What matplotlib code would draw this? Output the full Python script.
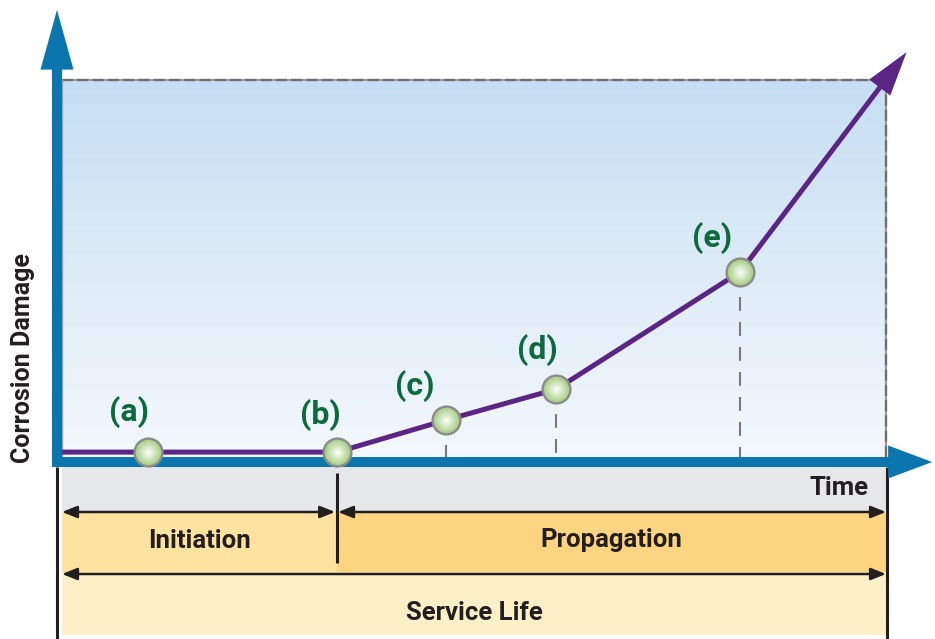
import numpy as np
import matplotlib
matplotlib.use("Agg")
import matplotlib.pyplot as plt
from matplotlib.patches import FancyArrowPatch, Rectangle, ArrowStyle
from matplotlib.colors import to_rgb

plt.rcParams['font.family'] = ['Roboto', 'DejaVu Sans']
plt.rcParams['lines.scale_dashes'] = False

# ---------------- data ----------------
curve_time = [0, 10.4, 33.4, 46.6, 60.0, 82.3, 102.5]
curve_damage = [1.3, 1.3, 1.3, 9.8, 18.0, 49.1, 107.4]
point_labels = ['(a)', '(b)', '(c)', '(d)', '(e)']
point_index = [1, 2, 3, 4, 5]
drop_index = [3, 4, 5]
initiation_end = curve_time[2]
service_end = 100
phase_labels = ['Initiation', 'Propagation', 'Service Life']
x_title = 'Time'
y_title = 'Corrosion Damage'

# ---------------- styles ----------------
BLUE = '#0b76ae'
PURPLE = '#5b2586'
GREEN = '#0d6a3d'
BLACK = '#231f20'
GRAY_BAND = '#e6e7e9'
INIT_C = '#fee3a0'
PROP_C = '#fdd580'
LIFE_C = '#fdefc8'
label_offsets = [(-13.7, 28.8), (-12.2, 26.6), (-22.3, 24.5), (-13.7, 28.1), (-20.2, 24.5)]
TW = 'bold'
TS = 18.5

W, H = 935, 639
fig = plt.figure(figsize=(W / 100, H / 100), dpi=100)
ax2 = fig.add_axes([62 / W, 0, 824 / W, 172 / H])
ax = fig.add_axes([62 / W, (H - 457) / H, 824 / W, 377 / H])
ax.set_zorder(2)
ax2.set_zorder(1)
for a in (ax, ax2):
    a.set_axis_off()
    a.patch.set_visible(False)

ax.set_xlim(0, 100)
ax.set_ylim(0, 100)

# background gradient
top = np.array(to_rgb('#c6def3'))
bot = np.array(to_rgb('#f4f8fc'))
tt = np.linspace(0, 1, 256)[:, None]
grad = (top[None, :] * (1 - tt) + bot[None, :] * tt)[:, None, :]
ax.imshow(grad, extent=[0, 100, 0, 100], aspect='auto', zorder=0, origin='upper')

# dashed border
for xs, ys in (([0, 100], [100, 100]), ([100, 100], [0, 100])):
    ax.plot(xs, ys, color='#9b9b9b', lw=1.6, zorder=1, clip_on=False, solid_capstyle='butt')
    ax.plot(xs, ys, color='#6e6e6e', lw=1.6, zorder=1, clip_on=False,
            dashes=(8, 3))
ax.plot([0, 0], [0, 100], color='#9aa4ab', lw=1.0, zorder=1, clip_on=False)

# blue axes arrows
vert = FancyArrowPatch((-0.607, -2.65), (-0.607, 118.6),
                       arrowstyle=ArrowStyle.Simple(head_length=43, head_width=23.8, tail_width=7.2),
                       color=BLUE, lw=0, shrinkA=0, shrinkB=0, mutation_scale=1,
                       transform=ax.transData, clip_on=False, zorder=3)
horz = FancyArrowPatch((-1.21, -1.33), (105.6, -1.33),
                       arrowstyle=ArrowStyle.Simple(head_length=31.7, head_width=23.8, tail_width=7.2),
                       color=BLUE, lw=0, shrinkA=0, shrinkB=0, mutation_scale=1,
                       transform=ax.transData, clip_on=False, zorder=3)
ax.add_patch(vert)
ax.add_patch(horz)

# drop lines
for i in drop_index:
    ax.plot([curve_time[i], curve_time[i]], [curve_damage[i], 0], color='#7a7a7a',
            lw=1.5, dashes=(10, 8), zorder=2, solid_capstyle='butt', dash_capstyle='butt')

# purple curve
ax.plot(curve_time[:-1], curve_damage[:-1], color=PURPLE, lw=3.6, zorder=4,
        solid_joinstyle='miter', solid_capstyle='butt', clip_on=False)
tip = FancyArrowPatch((curve_time[-2], curve_damage[-2]), (curve_time[-1], curve_damage[-1]),
                      arrowstyle=ArrowStyle.Simple(head_length=32, head_width=19, tail_width=3.6),
                      color=PURPLE, lw=0, shrinkA=0, shrinkB=0, mutation_scale=1,
                      transform=ax.transData, clip_on=False, zorder=4)
ax.add_patch(tip)

# markers with radial gradient
pt = [curve_time[i] for i in point_index]
pd_ = [curve_damage[i] for i in point_index]
ax.plot(pt, pd_, 'o', ms=20, mfc='#a9cf8a', mec='#8b8b8b', mew=1.7, zorder=5, clip_on=False)
c_out = np.array(to_rgb('#a9cf8a'))
c_in = np.array(to_rgb('#f7fcf3'))
for k, s in enumerate(np.linspace(17.5, 2, 16)):
    f = (k + 1) / 16
    col = c_out * (1 - f) + c_in * f
    ax.plot(pt, pd_, 'o', ms=s, mfc=col, mec='none', zorder=5.1 + k * 0.01, clip_on=False)

# point labels
for lab, x, y, off in zip(point_labels, pt, pd_, label_offsets):
    ax.annotate(lab, xy=(x, y), xytext=off, textcoords='offset points', ha='center',
                va='center', fontsize=23, fontweight='bold', color=GREEN, zorder=6)

# ---------------- bottom phases ----------------
ax2.set_xlim(0, 100)
ax2.set_ylim(172, 0)
ax2.add_patch(Rectangle((0, 0), service_end, 45, color=GRAY_BAND, lw=0))
ax2.add_patch(Rectangle((0, 45), initiation_end, 60, color=INIT_C, lw=0))
ax2.add_patch(Rectangle((initiation_end, 45), service_end - initiation_end, 60, color=PROP_C, lw=0))
ax2.add_patch(Rectangle((0, 105), service_end, 63, color=LIFE_C, lw=0))

for x in (-0.55, service_end + 0.1):
    ax2.plot([x, x], [0, 172], color=BLACK, lw=2.2, clip_on=False, solid_capstyle='butt')
ax2.plot([initiation_end, initiation_end], [6, 96], color=BLACK, lw=2.2, solid_capstyle='butt')

astyle = '<|-|>,head_length=0.9,head_width=0.36'
for x0, x1, y in ((0, initiation_end - 0.25, 45), (initiation_end + 0.1, service_end, 45),
                  (0, service_end, 107)):
    ax2.annotate('', xy=(x1, y), xytext=(x0, y),
                 arrowprops=dict(arrowstyle=astyle, mutation_scale=10, lw=1.8, color=BLACK,
                                 shrinkA=0, shrinkB=0), annotation_clip=False)

ax2.text(initiation_end / 2, 81, phase_labels[0], ha='center', va='baseline',
         fontsize=TS, fontweight=TW, color=BLACK)
ax2.text((initiation_end + service_end) / 2, 80.5, phase_labels[1], ha='center', va='baseline',
         fontsize=TS, fontweight=TW, color=BLACK)
ax2.text(service_end / 2, 153, phase_labels[2], ha='center', va='baseline',
         fontsize=TS, fontweight=TW, color=BLACK)
ax2.text(97.9, 28, x_title, ha='right', va='baseline', fontsize=TS, fontweight=TW, color=BLACK)

fig.text(23 / W, 1 - 358 / H, y_title, rotation=90, ha='center', va='center',
         fontsize=18, fontweight=TW, color=BLACK)

fig.savefig('out.png', dpi=100)
